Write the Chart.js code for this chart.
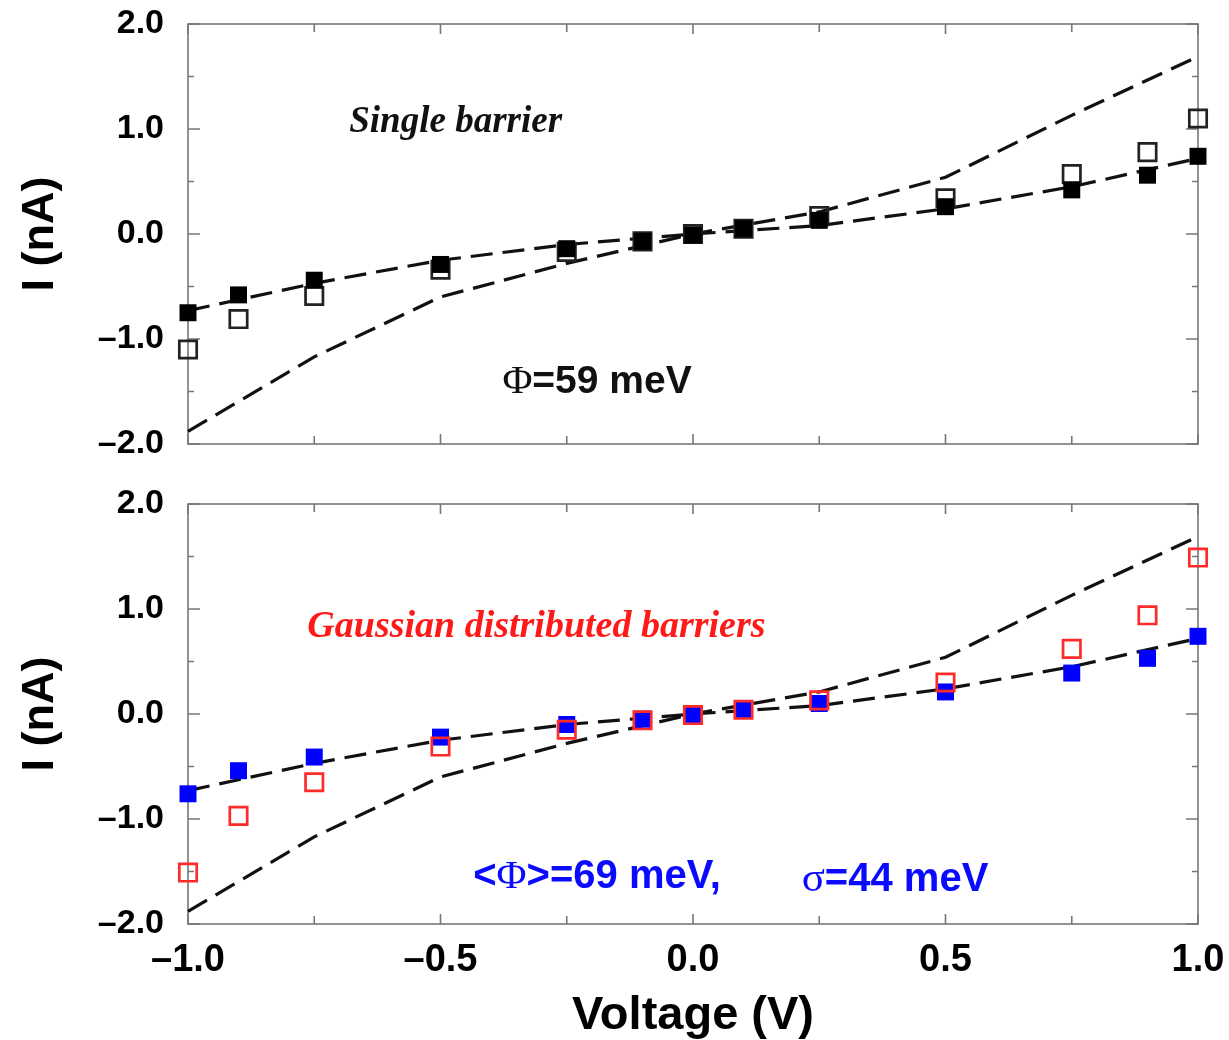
<!DOCTYPE html>
<html>
<head>
<meta charset="utf-8">
<script src="https://cdn.jsdelivr.net/npm/chart.js@4/dist/chart.umd.min.js"></script>
<style>
  body { margin: 0; background: #fff; }
  canvas { position: absolute; left: 0; }
</style>
</head>
<body>
<canvas id="topChart" width="1229" height="480" style="top:0"></canvas>
<canvas id="bottomChart" width="1229" height="560" style="top:480px"></canvas>
<script>
// measured voltages (V)
const voltages = [-1, -0.9, -0.75, -0.5, -0.25, -0.1, 0, 0.1, 0.25, 0.5, 0.75, 0.9, 1];

// top panel: single barrier
const singleFilled = [-0.75, -0.58, -0.44, -0.29, -0.14, -0.07, -0.01, 0.05, 0.13, 0.26, 0.42, 0.56, 0.74];
const singleOpen   = [-1.10, -0.81, -0.59, -0.34, -0.17, -0.07, 0.00, 0.05, 0.17, 0.34, 0.57, 0.78, 1.10];

// bottom panel: gaussian distributed barriers
const gaussFilled = [-0.76, -0.54, -0.41, -0.22, -0.10, -0.05, -0.01, 0.04, 0.10, 0.21, 0.39, 0.53, 0.74];
const gaussOpen   = [-1.51, -0.97, -0.65, -0.31, -0.15, -0.06, -0.01, 0.04, 0.13, 0.30, 0.62, 0.94, 1.49];

// dashed reference curves (same in both panels)
const fitV       = [-1, -0.75, -0.5, -0.25, 0, 0.25, 0.5, 0.75, 1];
const fitSteep   = [-1.88, -1.17, -0.60, -0.28, 0, 0.21, 0.54, 1.13, 1.69];
const fitShallow = [-0.73, -0.47, -0.25, -0.10, 0, 0.08, 0.24, 0.45, 0.72];

const yTicks = [-2, -1, 0, 1, 2];
const xTicks = [-1, -0.5, 0, 0.5, 1];

const SANS = '"Liberation Sans", Arial, Helvetica, sans-serif';
const SERIF = '"Liberation Serif", "Times New Roman", serif';

const pts = (xs, ys) => xs.map((x, i) => ({ x: x, y: ys[i] }));
const fmt = v => (v < 0 ? '\u2013' : '') + Math.abs(v).toFixed(1);

function markerSet(data, color, filled) {
    return {
        data: data,
        showLine: false,
        pointStyle: 'rect',
        pointRadius: filled ? 12 : 12.3,
        backgroundColor: filled ? color : 'rgba(0,0,0,0)',
        borderColor: color,
        borderWidth: filled ? 0 : 2.7,
        clip: false
    };
}

function dashSet(data) {
    return {
        data: data,
        showLine: true,
        tension: 0,
        borderColor: '#111',
        borderWidth: 3.2,
        borderDash: [22, 10],
        pointRadius: 0,
        clip: false
    };
}

// box around plot plus inward ticks on all four sides, and the text notes
const framePlugin = {
    id: 'frame',
    beforeDatasetsDraw(chart) {
        const { ctx, chartArea: a, scales: { x, y } } = chart;
        ctx.save();
        ctx.strokeStyle = '#777';
        ctx.lineWidth = 1.6;
        ctx.strokeRect(a.left, a.top, a.right - a.left, a.bottom - a.top);
        ctx.beginPath();
        for (let v = -2; v <= 2.001; v += 0.5) {
            const py = y.getPixelForValue(v);
            const len = Math.abs(v % 1) < 1e-6 ? 12 : 6;
            ctx.moveTo(a.left, py); ctx.lineTo(a.left + len, py);
            ctx.moveTo(a.right, py); ctx.lineTo(a.right - len, py);
        }
        for (let v = -1; v <= 1.001; v += 0.25) {
            const px = x.getPixelForValue(v);
            const len = Math.abs((v * 2) % 1) < 1e-6 ? 10 : 8;
            ctx.moveTo(px, a.bottom); ctx.lineTo(px, a.bottom - len);
            ctx.moveTo(px, a.top); ctx.lineTo(px, a.top + len);
        }
        ctx.stroke();
        ctx.restore();
    },
    afterDraw(chart) {
        const { ctx, scales: { x, y } } = chart;
        const notes = chart.options.plugins.frame.notes || [];
        ctx.save();
        ctx.textBaseline = 'middle';
        ctx.textAlign = 'left';
        notes.forEach(n => {
            let total = 0;
            n.runs.forEach(r => { ctx.font = r.font; total += ctx.measureText(r.text).width; });
            let cx = x.getPixelForValue(n.x) - total / 2;
            const cy = y.getPixelForValue(n.y);
            ctx.fillStyle = n.color;
            n.runs.forEach(r => {
                ctx.font = r.font;
                ctx.fillText(r.text, cx, cy);
                cx += ctx.measureText(r.text).width;
            });
        });
        ctx.restore();
    }
};

function makeOptions(showX, padBottom, notes) {
    return {
        responsive: false,
        animation: false,
        layout: { padding: { top: 24, right: 31, bottom: padBottom, left: 0 } },
        plugins: {
            legend: { display: false },
            tooltip: { enabled: false },
            frame: { notes: notes }
        },
        scales: {
            x: {
                type: 'linear',
                min: -1, max: 1,
                grid: { display: false, drawTicks: false },
                border: { display: false },
                afterBuildTicks: s => { s.ticks = xTicks.map(v => ({ value: v })); },
                afterFit: s => {
                    s.height = showX ? 116 : 0;
                    s.paddingLeft = 0; s.paddingRight = 0;
                },
                ticks: {
                    display: showX,
                    autoSkip: false,
                    maxRotation: 0,
                    padding: 14,
                    color: '#000',
                    font: { family: SANS, size: 38, weight: 'bold' },
                    callback: v => fmt(v)
                },
                title: {
                    display: showX,
                    text: 'Voltage (V)',
                    color: '#000',
                    padding: { top: 0, bottom: 0 },
                    font: { family: SANS, size: 47, weight: 'bold', lineHeight: 1 }
                }
            },
            y: {
                type: 'linear',
                min: -2, max: 2,
                grid: { display: false, drawTicks: false },
                border: { display: false },
                afterBuildTicks: s => { s.ticks = yTicks.map(v => ({ value: v })); },
                afterFit: s => {
                    s.width = 188;
                    s.paddingTop = 0; s.paddingBottom = 0;
                },
                ticks: {
                    autoSkip: false,
                    padding: 24,
                    color: '#000',
                    font: { family: SANS, size: 34, weight: 'bold' },
                    callback: v => fmt(v)
                },
                title: {
                    display: true,
                    text: 'I (nA)',
                    color: '#000',
                    padding: { top: 18, bottom: 0 },
                    font: { family: SANS, size: 45, weight: 'bold', lineHeight: 1 }
                }
            }
        }
    };
}

const topNotes = [
    { x: -0.47, y: 1.06, color: '#111', runs: [{ text: 'Single barrier', font: 'italic bold 37px ' + SERIF }] },
    { x: -0.19, y: -1.41, color: '#111', runs: [
        { text: '\u03A6', font: '41px ' + SERIF },
        { text: '=59 meV', font: 'bold 39px ' + SANS }
    ] }
];

const bottomNotes = [
    { x: -0.31, y: 0.83, color: '#ff1a1a', runs: [{ text: 'Gaussian distributed barriers', font: 'italic bold 38px ' + SERIF }] },
    { x: -0.19, y: -1.55, color: '#0a0aff', runs: [
        { text: '<', font: 'bold 40px ' + SANS },
        { text: '\u03A6', font: '41px ' + SERIF },
        { text: '>=69 meV,', font: 'bold 40px ' + SANS }
    ] },
    { x: 0.40, y: -1.58, color: '#0a0aff', runs: [
        { text: '\u03C3', font: '43px ' + SERIF },
        { text: '=44 meV', font: 'bold 40px ' + SANS }
    ] }
];

new Chart(document.getElementById('topChart'), {
    type: 'scatter',
    data: {
        datasets: [
            markerSet(pts(voltages, singleFilled), '#000', true),
            markerSet(pts(voltages, singleOpen), '#222', false),
            dashSet(pts(fitV, fitSteep)),
            dashSet(pts(fitV, fitShallow))
        ]
    },
    options: makeOptions(false, 36, topNotes),
    plugins: [framePlugin]
});

new Chart(document.getElementById('bottomChart'), {
    type: 'scatter',
    data: {
        datasets: [
            markerSet(pts(voltages, gaussOpen), '#ff2a2a', false),
            markerSet(pts(voltages, gaussFilled), '#0000ff', true),
            dashSet(pts(fitV, fitSteep)),
            dashSet(pts(fitV, fitShallow))
        ]
    },
    options: makeOptions(true, 0, bottomNotes),
    plugins: [framePlugin]
});
</script>
</body>
</html>
